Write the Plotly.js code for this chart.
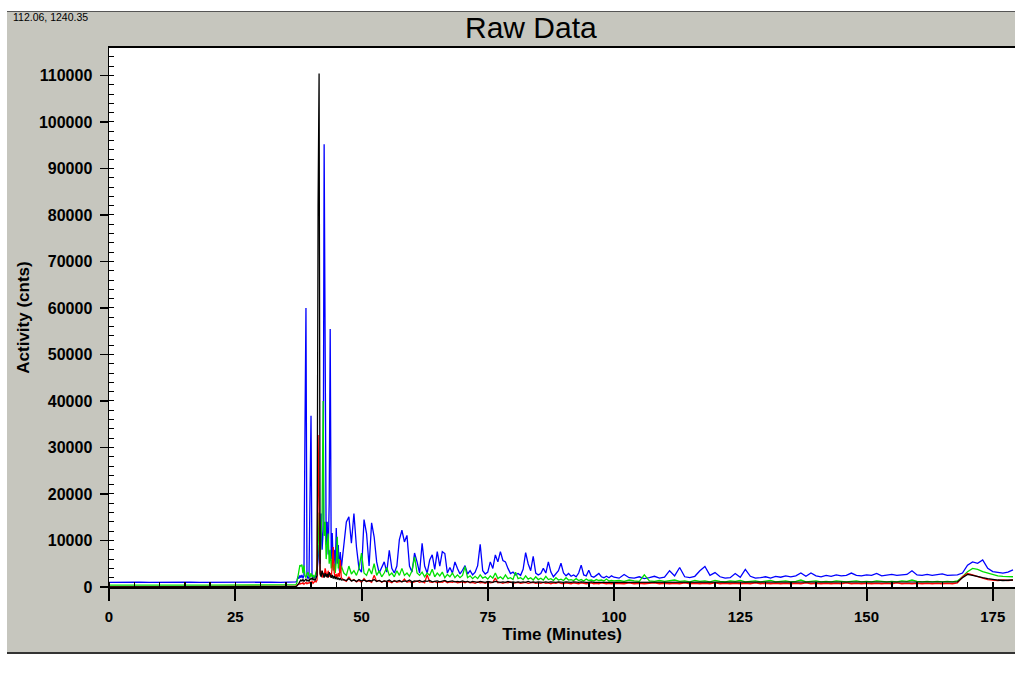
<!DOCTYPE html>
<html>
<head>
<meta charset="utf-8">
<script src="https://cdn.plot.ly/plotly-3.0.1.min.js"></script>
<style>
html,body{margin:0;padding:0;background:#ffffff;width:1015px;height:685px;overflow:hidden;}
#frame{position:absolute;left:7px;top:11px;width:1008px;height:643px;background:#c6c6be;border-top:1px solid #555555;border-bottom:2px solid #333333;box-sizing:border-box;}
#chart{position:absolute;left:0px;top:0px;width:1015px;height:685px;}
</style>
</head>
<body>
<div id="frame"></div>
<div id="chart"></div>
<script>
// ---- Data ----
const minutes = [
  0,2,4,6,8,10,12,14,16,18,20,22,24,26,28,30,32,34,36,
  37,37.2,37.4,37.6,37.8,38,38.2,38.4,38.6,38.8,
  39,39.2,39.4,39.6,39.8,40,40.2,40.4,40.6,40.8,
  41,41.2,41.4,41.6,41.8,42,42.2,42.4,42.6,42.8,
  43,43.2,43.4,43.6,43.8,44,44.2,44.4,44.6,44.8,
  45,45.2,45.4,45.6,45.8,46,
  46.5,47,47.5,48,48.5,49,49.5,50,50.5,51,
  51.5,52,52.5,53,53.5,54,54.5,55,55.5,56,
  56.5,57,57.5,58,58.5,59,59.5,60,60.5,61,
  61.5,62,62.5,63,63.5,64,64.5,65,65.5,66,
  66.5,67,67.5,68,68.5,69,69.5,70,70.5,71,
  71.5,72,72.5,73,73.5,74,74.5,75,75.5,76,
  76.5,77,77.5,78,78.5,79,79.5,80,80.5,81,
  81.5,82,82.5,83,83.5,84,84.5,85,85.5,86,
  86.5,87,87.5,88,88.5,89,89.5,90,90.5,91,
  91.5,92,92.5,93,93.5,94,94.5,95,95.5,96,
  96.5,97,97.5,98,98.5,99,99.5,100,
  101,102,103,104,105,106,107,108,109,110,
  111,112,113,114,115,116,117,118,119,120,
  121,122,123,124,125,126,127,128,129,130,
  131,132,133,134,135,136,137,138,139,140,
  141,142,143,144,145,146,147,148,149,150,
  151,152,153,154,155,156,157,158,159,160,
  161,162,163,164,165,166,167,168,169,170,
  171,172,173,174,175,176,177,178,179
];

const blueCounts = [
  1000,1060,980,1020,1000,1050,990,1010,1040,980,1000,1060,1000,970,1020,1000,1040,990,1010,
  1100,1300,2200,1800,2500,2000,2600,1900,2400,33000,
  60000,2500,1800,2200,29600,36800,2600,1900,2300,2000,
  2800,3500,6000,9000,5000,15800,8000,12000,95200,53000,
  9000,14000,7000,18000,55500,6000,11600,5000,8000,4000,
  12700,5000,9000,3500,7500,4000,
  8600,14000,15100,9400,15800,8600,4000,3200,14500,11500,
  4500,13800,10800,5400,3000,4200,5400,3200,7900,4000,
  3000,4500,10200,12200,9700,11100,4500,3200,7300,5400,
  3000,9400,4500,3000,5800,6900,3800,7600,4500,7600,
  7200,3000,4200,3000,5400,4000,2800,3600,4600,2800,
  3500,2600,3200,4600,9200,3500,2800,3200,5400,4000,
  6900,5400,7600,5700,5400,4000,2900,3200,2600,2900,
  2500,3800,7400,5000,3500,6600,3000,2600,2900,4000,
  3000,5400,3200,2200,2800,3500,5100,3000,2400,2900,
  2300,2600,2200,3000,4700,2600,2400,3600,2300,2100,
  2500,2900,2200,2000,2300,2000,2400,2100,
  1900,2700,2000,1900,2200,1800,2000,2300,1900,2100,
  3500,2400,4200,2200,2000,2300,3500,4400,2500,3100,
  2200,1900,2000,2900,2100,3800,2300,1900,2000,2200,
  1900,2300,2100,2400,2200,2400,3000,2300,3000,2400,
  2200,2500,2300,2600,2400,2500,3000,2500,2400,2600,
  2500,2900,2400,2500,2700,2500,2600,2700,3500,2600,
  2500,2700,2500,2600,2800,2500,2600,2600,3000,4700,
  5400,5100,5800,4000,3300,3100,3000,3200,3700
];

const greenCounts = [
  400,420,390,410,400,400,380,410,400,420,400,390,400,410,400,400,390,410,400,
  450,900,2500,3500,4700,4500,4800,3000,4600,2500,
  2000,2800,3200,2400,2000,3000,2200,2600,2000,2400,
  3000,4000,8000,16000,6000,13000,16000,40000,11000,14000,
  6000,9000,11500,5000,8000,4000,6000,3500,5000,3000,
  5500,10800,4000,6000,3000,4500,
  3000,2500,4500,2800,3500,2500,4000,7300,3000,2500,
  4000,2800,5000,2500,3500,2200,3000,4200,2500,3000,
  2200,3500,2500,4000,2500,3000,2300,3500,6500,3000,
  2500,3200,2200,3000,2500,3800,2200,3000,2400,3200,
  2000,2700,2200,3000,2000,2600,2000,2500,4400,2000,
  2400,1800,2300,1800,2600,1900,2200,1700,2400,1900,
  3000,1800,2200,1700,2600,1800,2000,1600,3200,1800,
  2000,1600,2400,1700,2000,1500,2200,1600,1900,1500,
  2300,1600,1800,1400,2000,1500,1700,1400,2000,1500,
  1600,1400,1800,1400,1600,1300,1700,1400,1500,1300,
  1600,1400,1500,1300,1700,1300,1400,1300,
  1400,1200,1500,1300,1200,2600,1300,1200,1400,1200,
  1300,1500,1200,1300,1100,1400,1200,1300,1100,1400,
  1200,1100,1300,1200,1400,1100,1200,1300,1100,1200,
  1400,1100,1200,1300,1100,1200,1500,1100,1200,1300,
  1100,1200,1100,1300,1200,1100,1200,1300,1100,1200,
  1100,1300,1200,1100,1200,1100,1300,1200,1500,1200,
  1100,1200,1100,1200,1100,1200,1100,1300,2200,3300,
  4000,3800,3300,3000,2600,2400,2300,2200,2200
];

const redCounts = [
  30,30,30,30,30,30,30,30,30,30,30,30,30,30,30,30,30,30,30,
  150,300,500,700,600,800,700,900,600,800,
  1000,700,900,800,1100,900,1200,800,1000,1300,
  1100,1500,32700,21000,2500,3500,2000,3000,2200,4000,
  2500,2000,3500,2200,3000,2000,4500,8600,3000,2200,
  2800,2000,3000,2200,5800,2000,
  1500,1200,2200,1300,1600,1100,1400,1000,1800,1200,
  1300,1000,2500,1200,1400,1000,1300,1100,1200,900,
  1400,1000,1200,1100,1700,1000,1200,900,1100,1300,
  1000,1200,900,2600,1100,1000,1200,900,1100,1000,
  1300,900,1100,1000,1200,900,1000,1100,900,1200,
  900,1000,800,1100,900,1000,800,1100,900,1000,
  1900,900,1000,800,1000,900,1100,800,900,1000,
  800,900,1000,800,900,1000,800,900,800,1000,
  800,900,700,900,800,1000,800,700,900,800,
  700,900,800,700,900,800,700,800,900,700,
  800,700,900,800,700,800,700,800,
  800,700,900,700,800,700,800,900,700,800,
  700,800,700,900,700,800,700,800,700,900,
  700,800,700,800,700,800,700,900,700,800,
  700,800,700,800,700,800,700,900,700,800,
  700,800,700,800,700,900,700,800,700,800,
  700,800,700,800,700,900,700,800,700,800,
  700,800,700,800,700,800,700,900,2200,2900,
  2600,2200,1900,1600,1500,1400,1500,1400,1500
];

const blackCounts = [
  30,30,30,30,30,30,30,30,30,30,30,30,30,30,30,30,30,30,30,
  100,200,400,800,1200,1500,1300,1600,1200,1500,
  1700,1300,1500,1200,1800,1600,2000,1500,1800,1400,
  1900,2500,81900,110400,3000,2200,3500,2500,2000,3000,
  2200,2800,2000,3200,2400,2000,2600,1800,2400,1700,
  2200,1600,2000,1500,1900,1500,
  1600,1400,1800,1300,1500,1200,1600,1300,1500,1200,
  1400,1300,1600,1200,1400,1100,1300,1200,1500,1100,
  1300,1200,1400,1100,1300,1200,1500,1100,1300,1200,
  1400,1100,1300,1200,1400,1100,1200,1300,1100,1200,
  1400,1100,1200,1300,1100,1200,1100,1300,1100,1200,
  1000,1200,1100,1000,1200,1100,1000,1200,1100,1000,
  1200,1100,1000,1100,1000,1200,1000,1100,1000,1100,
  1000,1100,1000,1200,1000,1100,1000,1100,1000,1000,
  1100,1000,1100,1000,1000,1100,1000,1000,1100,1000,
  1000,1100,1000,1000,1100,1000,1000,1000,1100,1000,
  1000,1000,1100,1000,1000,1000,1000,1000,
  1000,1050,950,1000,1000,1050,1000,950,1000,1050,
  1000,1000,950,1050,1000,1000,1050,950,1000,1000,
  1050,1000,950,1000,1000,1050,1000,1000,950,1000,
  1000,1050,1000,1000,950,1000,1050,1000,1000,950,
  1000,1000,1050,1000,950,1000,1000,1050,1000,1000,
  950,1000,1050,1000,1000,950,1000,1000,1050,1000,
  1000,950,1000,1050,1000,1000,950,1100,2000,2700,
  2500,2200,2000,1800,1600,1500,1400,1400,1500
];

const xTickVals = [0,25,50,75,100,125,150,175];
const xTickText = ['0','25','50','75','100','125','150','175'];
const yTickVals = [0,10000,20000,30000,40000,50000,60000,70000,80000,90000,100000,110000];
const yTickText = ['0','10000','20000','30000','40000','50000','60000','70000','80000','90000','100000','110000'];
const cornerText = '112.06, 1240.35';

// ---- Chart ----
const FONT = 'Liberation Sans, Arial, Helvetica, sans-serif';
function series(y, color){
  return {x: minutes, y: y, type:'scatter', mode:'lines', hoverinfo:'skip',
          line:{color: color, width:1.3}};
}
const traces = [
  series(blueCounts, '#0000ff'),
  series(greenCounts, '#00e000'),
  series(redCounts, '#ff0000'),
  series(blackCounts, '#000000')
];

const layout = {
  width:1015, height:685,
  margin:{l:109, r:0, t:48, b:98, pad:0},
  paper_bgcolor:'rgba(0,0,0,0)',
  plot_bgcolor:'#ffffff',
  showlegend:false,
  title:{text:'Raw Data', font:{family:FONT, size:30, color:'#000000'},
         xref:'container', x:0.523, xanchor:'center', yref:'container', y:0.9595, yanchor:'middle'},
  xaxis:{
    range:[0,179.4], tickmode:'array', tickvals:xTickVals, ticktext:xTickText,
    ticks:'outside', ticklen:12, tickwidth:2, tickcolor:'#000000',
    ticklabelstandoff:3,
    showline:true, linecolor:'#000000', linewidth:2, mirror:true,
    showgrid:false, zeroline:false, fixedrange:true,
    tickfont:{family:FONT, size:15, weight:'bold', color:'#000000'},
    minor:{tickmode:'linear', tick0:0, dtick:5, ticks:'inside', ticklen:5, tickwidth:1.5, tickcolor:'#000000', showgrid:false},
    title:{text:'Time (Minutes)', standoff:4, font:{family:FONT, size:17, weight:'bold', color:'#000000'}}
  },
  yaxis:{
    range:[0,115900], tickmode:'array', tickvals:yTickVals, ticktext:yTickText,
    ticks:'outside', ticklen:8, tickwidth:1.5, tickcolor:'#000000',
    ticklabelstandoff:4,
    showline:true, linecolor:'#000000', linewidth:1.5,
    showgrid:false, zeroline:false, fixedrange:true,
    tickfont:{family:FONT, size:16, weight:'bold', color:'#000000'},
    minor:{tickmode:'linear', tick0:0, dtick:2000, ticks:'inside', ticklen:5, tickwidth:1, tickcolor:'#000000', showgrid:false},
    title:{text:'Activity (cnts)', standoff:5, font:{family:FONT, size:17, weight:'bold', color:'#000000'}}
  },
  annotations:[{
    text:cornerText, xref:'paper', yref:'paper', x:-0.1082, y:1.0575,
    xanchor:'left', yanchor:'middle', showarrow:false,
    font:{family:FONT, size:10.5, color:'#000000'}
  }]
};

Plotly.newPlot('chart', traces, layout, {displayModeBar:false, staticPlot:true});
</script>
</body>
</html>
